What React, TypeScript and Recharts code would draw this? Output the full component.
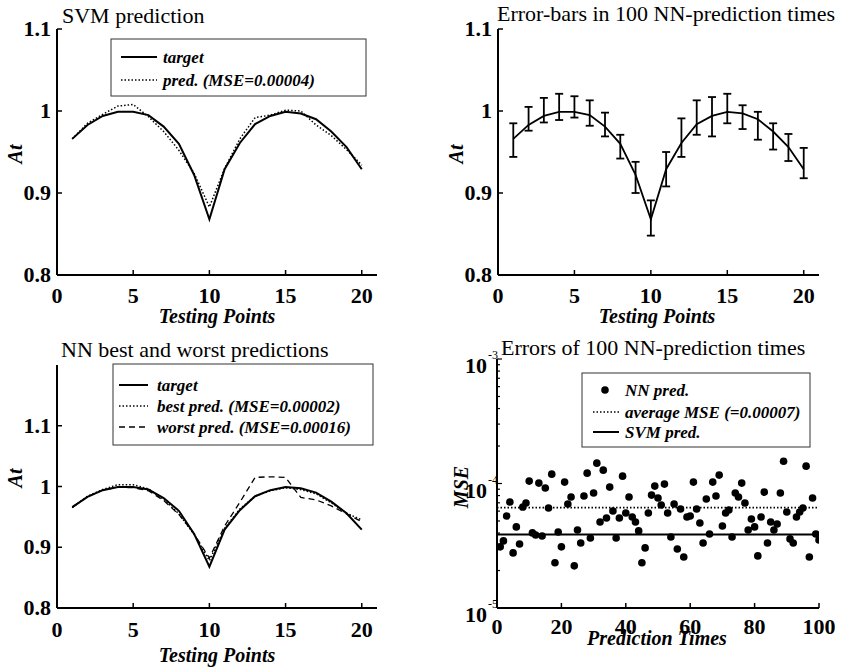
import React from 'react';
import { ComposedChart, Line, XAxis, YAxis, ErrorBar, Scatter, ReferenceLine } from 'recharts';

const FONT = "'Liberation Serif', 'DejaVu Serif', serif";

// ---------- data ----------
const testingPoints = [1, 2, 3, 4, 5, 6, 7, 8, 9, 10, 11, 12, 13, 14, 15, 16, 17, 18, 19, 20];
const target = [0.966, 0.983, 0.994, 0.999, 0.999, 0.995, 0.981, 0.960, 0.922, 0.868, 0.929, 0.961, 0.984, 0.994, 0.999, 0.997, 0.990, 0.975, 0.956, 0.929];
const svmPred = [0.966, 0.985, 0.996, 1.006, 1.008, 0.993, 0.975, 0.952, 0.924, 0.883, 0.930, 0.966, 0.992, 0.995, 1.001, 1.000, 0.983, 0.970, 0.953, 0.934];
const nnBest = [0.965, 0.984, 0.995, 1.003, 1.003, 0.996, 0.979, 0.955, 0.921, 0.878, 0.931, 0.963, 0.984, 0.993, 0.998, 0.995, 0.988, 0.973, 0.956, 0.945];
const nnWorst = [0.966, 0.983, 0.994, 0.999, 0.998, 0.993, 0.977, 0.954, 0.922, 0.882, 0.935, 0.974, 1.015, 1.016, 1.015, 0.982, 0.978, 0.968, 0.955, 0.942];
const errLow = [0.944, 0.976, 0.986, 0.989, 0.992, 0.982, 0.969, 0.942, 0.900, 0.848, 0.908, 0.944, 0.971, 0.969, 0.985, 0.978, 0.965, 0.953, 0.939, 0.918];
const errHigh = [0.985, 1.005, 1.016, 1.021, 1.018, 1.013, 0.998, 0.971, 0.938, 0.891, 0.950, 0.991, 1.013, 1.017, 1.021, 1.007, 0.999, 0.985, 0.972, 0.955];

const nnMse = [
  3.10e-5, 3.46e-5, 5.48e-5, 7.10e-5, 2.77e-5, 4.48e-5, 3.27e-5, 6.47e-5, 6.97e-5, 10.45e-5,
  4.01e-5, 3.86e-5, 10.07e-5, 3.79e-5, 9.19e-5, 6.35e-5, 11.89e-5, 2.31e-5, 4.08e-5, 3.10e-5,
  10.26e-5, 6.84e-5, 7.78e-5, 2.18e-5, 4.23e-5, 3.33e-5, 7.93e-5, 12.11e-5, 3.65e-5, 8.38e-5,
  14.57e-5, 4.91e-5, 12.80e-5, 5.28e-5, 9.36e-5, 6.01e-5, 3.65e-5, 5.28e-5, 11.46e-5, 5.79e-5,
  7.78e-5, 5.38e-5, 4.91e-5, 4.16e-5, 2.31e-5, 3.04e-5, 5.79e-5, 8.07e-5, 9.53e-5, 7.64e-5,
  6.72e-5, 9.89e-5, 5.79e-5, 3.72e-5, 6.84e-5, 2.98e-5, 6.24e-5, 2.57e-5, 5.38e-5, 5.48e-5,
  10.26e-5, 6.24e-5, 4.82e-5, 3.33e-5, 7.50e-5, 3.93e-5, 10.26e-5, 7.93e-5, 11.68e-5, 4.56e-5,
  5.79e-5, 6.12e-5, 3.72e-5, 8.38e-5, 7.78e-5, 10.07e-5, 6.97e-5, 4.23e-5, 5.19e-5, 4.48e-5,
  2.62e-5, 5.38e-5, 8.53e-5, 3.33e-5, 4.91e-5, 4.23e-5, 4.73e-5, 8.38e-5, 15.11e-5, 5.90e-5,
  3.59e-5, 3.33e-5, 5.38e-5, 5.90e-5, 6.35e-5, 13.78e-5, 2.57e-5, 7.64e-5, 3.93e-5, 3.52e-5,
];
const avgMse = 6.4e-5;
const svmMse = 3.9e-5;

const xTicksTP = [0, 5, 10, 15, 20];
const yTicksAt = [0.8, 0.9, 1, 1.1];
const xTicksPT = [0, 20, 40, 60, 80, 100];
const yTicksLog = [
  1e-5, 2e-5, 3e-5, 4e-5, 5e-5, 6e-5, 7e-5, 8e-5, 9e-5,
  1e-4, 2e-4, 3e-4, 4e-4, 5e-4, 6e-4, 7e-4, 8e-4, 9e-4, 1e-3,
];

const lineRows = testingPoints.map((x, i) => ({
  x,
  target: target[i],
  svm: svmPred[i],
  best: nnBest[i],
  worst: nnWorst[i],
  err: [target[i] - errLow[i], errHigh[i] - target[i]],
}));
const scatterRows = nnMse.map((v, i) => ({ t: i + 1, mse: v }));

// ---------- text styles ----------
const sReg = { fontFamily: FONT, fill: '#000' } as const;
const sBold = { fontFamily: FONT, fontWeight: 700, fill: '#000' } as const;
const sBI = { fontFamily: FONT, fontWeight: 700, fontStyle: 'italic', fill: '#000' } as const;

// ---------- ticks ----------
const isMajorLog = (v: number) => Math.abs(Math.log10(v) - Math.round(Math.log10(v))) < 1e-6;

const makeBottomTick = (dy: number) => (p: any) => (
  <g>
    <line x1={p.x} y1={p.y} x2={p.x} y2={p.y - 5} stroke="#000" strokeWidth={1.5} />
    <text x={p.x} y={p.y + dy} textAnchor="middle" fontSize={22} style={sBold}>
      {String(p.payload.value)}
    </text>
  </g>
);
const TopTick = (p: any) => (
  <line x1={p.x} y1={p.y} x2={p.x} y2={p.y + 5} stroke="#000" strokeWidth={1.5} />
);
const LeftTick = (p: any) => (
  <g>
    <line x1={p.x} y1={p.y} x2={p.x + 5} y2={p.y} stroke="#000" strokeWidth={1.5} />
    <text x={p.x - 6} y={p.y + 7} textAnchor="end" fontSize={22} style={sBold}>
      {String(p.payload.value)}
    </text>
  </g>
);
const RightTick = (p: any) => (
  <line x1={p.x} y1={p.y} x2={p.x - 5} y2={p.y} stroke="#000" strokeWidth={1.5} />
);
const LeftLogTick = (p: any) => {
  const v = p.payload.value;
  const major = isMajorLog(v);
  return (
    <g>
      <line x1={p.x} y1={p.y} x2={p.x + (major ? 5 : 3)} y2={p.y} stroke="#000" strokeWidth={1.2} />
      {major && (
        <g>
          <text x={p.x - 10} y={p.y + 14} textAnchor="end" fontSize={22} style={sBold}>10</text>
          <text x={p.x - 9} y={p.y} textAnchor="start" fontSize={12} style={sReg}>
            {String(Math.round(Math.log10(v)))}
          </text>
        </g>
      )}
    </g>
  );
};
const RightLogTick = (p: any) => {
  const major = isMajorLog(p.payload.value);
  return <line x1={p.x} y1={p.y} x2={p.x - (major ? 5 : 3)} y2={p.y} stroke="#000" strokeWidth={1.2} />;
};

const AXIS_LINE = { stroke: '#000', strokeWidth: 2 };

function frameAxes(xKey: string, xDomain: number[], xTicks: number[], yDomain: number[], yTicks: number[], log = false, tickDy = 28) {
  const BT = makeBottomTick(tickDy);
  return [
    <XAxis key="xb" xAxisId="b" dataKey={xKey} type="number" domain={xDomain} ticks={xTicks} interval={0}
      allowDataOverflow height={40} tickSize={0} tickMargin={0} tickLine={false} axisLine={AXIS_LINE} tick={<BT />} />,
    <XAxis key="xt" xAxisId="t" orientation="top" type="number" domain={xDomain} ticks={xTicks} interval={0}
      allowDataOverflow height={0} tickSize={0} tickMargin={0} tickLine={false} axisLine={AXIS_LINE} tick={<TopTick />} />,
    <YAxis key="yl" yAxisId="l" type="number" scale={log ? 'log' : 'auto'} domain={yDomain} ticks={yTicks} interval={0}
      allowDataOverflow width={50} tickSize={0} tickMargin={0} tickLine={false} axisLine={AXIS_LINE}
      tick={log ? <LeftLogTick /> : <LeftTick />} />,
    <YAxis key="yr" yAxisId="r" orientation="right" type="number" scale={log ? 'log' : 'auto'} domain={yDomain} ticks={yTicks} interval={0}
      allowDataOverflow width={0} tickSize={0} tickMargin={0} tickLine={false} axisLine={AXIS_LINE}
      tick={log ? <RightLogTick /> : <RightTick />} />,
  ];
}

function YLabel({ x, y, text }: { x: number; y: number; text: string }) {
  return (
    <text x={x} y={y} transform={`rotate(-90 ${x} ${y})`} textAnchor="middle" dy="0.35em" fontSize={20} style={sBI}>{text}</text>
  );
}

export default function App() {
  return (
    <div style={{ position: 'absolute', left: 0, top: 0, width: 847, height: 667, background: '#fff', overflow: 'hidden', fontFamily: FONT }}>
      {/* Top-left: SVM prediction */}
      <div style={{ position: 'absolute', left: 0, top: 0 }}>
        <ComposedChart width={430} height={330} data={lineRows} margin={{ top: 29, left: 7, right: 53, bottom: 15 }}>
          {frameAxes('x', [0, 21], xTicksTP, [0.8, 1.1], yTicksAt)}
          <Line xAxisId="b" yAxisId="l" dataKey="target" stroke="#000" strokeWidth={2} dot={false} isAnimationActive={false} />
          <Line xAxisId="b" yAxisId="l" dataKey="svm" stroke="#000" strokeWidth={1.5} strokeDasharray="1.5 2" dot={false} isAnimationActive={false} />
        </ComposedChart>
      </div>

      {/* Top-right: error bars */}
      <div style={{ position: 'absolute', left: 430, top: 0 }}>
        <ComposedChart width={417} height={330} data={lineRows} margin={{ top: 29, left: 18, right: 28, bottom: 15 }}>
          {frameAxes('x', [0, 21], xTicksTP, [0.8, 1.1], yTicksAt)}
          <Line xAxisId="b" yAxisId="l" dataKey="target" stroke="#000" strokeWidth={1.8} dot={false} isAnimationActive={false}>
            <ErrorBar dataKey="err" direction="y" width={4} stroke="#000" strokeWidth={1.8} isAnimationActive={false} />
          </Line>
        </ComposedChart>
      </div>

      {/* Bottom-left: NN best and worst */}
      <div style={{ position: 'absolute', left: 0, top: 330 }}>
        <ComposedChart width={430} height={337} data={lineRows} margin={{ top: 35, left: 7, right: 53, bottom: 19 }}>
          {frameAxes('x', [0, 21], xTicksTP, [0.8, 1.2], yTicksAt, false, 29)}
          <Line xAxisId="b" yAxisId="l" dataKey="target" stroke="#000" strokeWidth={2} dot={false} isAnimationActive={false} />
          <Line xAxisId="b" yAxisId="l" dataKey="best" stroke="#000" strokeWidth={1.5} strokeDasharray="1.5 2" dot={false} isAnimationActive={false} />
          <Line xAxisId="b" yAxisId="l" dataKey="worst" stroke="#000" strokeWidth={1.3} strokeDasharray="6 4" dot={false} isAnimationActive={false} />
        </ComposedChart>
      </div>

      {/* Bottom-right: errors scatter (log) */}
      <div style={{ position: 'absolute', left: 430, top: 330 }}>
        <ComposedChart width={417} height={337} data={scatterRows} margin={{ top: 29, left: 17, right: 28, bottom: 19 }}>
          {frameAxes('t', [0, 100], xTicksPT, [1e-5, 1e-3], yTicksLog, true, 26)}
          <ReferenceLine xAxisId="b" yAxisId="l" y={avgMse} stroke="#000" strokeWidth={1.8} strokeDasharray="1.5 2" />
          <ReferenceLine xAxisId="b" yAxisId="l" y={svmMse} stroke="#000" strokeWidth={2} />
          <Scatter xAxisId="b" yAxisId="l" dataKey="mse" isAnimationActive={false}
            shape={(p: any) => <circle cx={p.cx} cy={p.cy} r={3.8} fill="#000" />} />
        </ComposedChart>
      </div>

      {/* Overlay: titles, axis labels, legends */}
      <svg width={847} height={667} style={{ position: 'absolute', left: 0, top: 0, pointerEvents: 'none' }}>
        <text x={62} y={23} fontSize={22} style={sReg}>SVM prediction</text>
        <text x={497} y={21} fontSize={22} style={sReg}>Error-bars in 100 NN-prediction times</text>
        <text x={61} y={357} fontSize={22} style={sReg}>NN best and worst predictions</text>
        <text x={501} y={355} fontSize={22} style={sReg}>Errors of 100 NN-prediction times</text>

        <YLabel x={15} y={154} text="At" />
        <YLabel x={456} y={154} text="At" />
        <YLabel x={15} y={478} text="At" />
        <YLabel x={461} y={487} text="MSE" />

        <text x={217} y={323} textAnchor="middle" fontSize={20} style={sBI}>Testing Points</text>
        <text x={657} y={323} textAnchor="middle" fontSize={20} style={sBI}>Testing Points</text>
        <text x={217} y={662} textAnchor="middle" fontSize={20} style={sBI}>Testing Points</text>
        <text x={657} y={645} textAnchor="middle" fontSize={20} style={sBI}>Prediction Times</text>

        {/* TL legend */}
        <rect x={111} y={39} width={255} height={57} fill="#fff" stroke="#333" strokeWidth={1} />
        <line x1={121} y1={57} x2={157} y2={57} stroke="#000" strokeWidth={2} />
        <text x={163} y={63} fontSize={17} style={sBI}>target</text>
        <line x1={121} y1={80} x2={157} y2={80} stroke="#000" strokeWidth={1.5} strokeDasharray="1.5 2" />
        <text x={163} y={86} fontSize={17} style={sBI}>pred. (MSE=0.00004)</text>

        {/* BL legend */}
        <rect x={113} y={364} width={260} height={81} fill="#fff" stroke="#333" strokeWidth={1} />
        <line x1={119} y1={385} x2={148} y2={385} stroke="#000" strokeWidth={2} />
        <text x={157} y={391} fontSize={17} style={sBI}>target</text>
        <line x1={119} y1={406} x2={148} y2={406} stroke="#000" strokeWidth={1.5} strokeDasharray="1.5 2" />
        <text x={157} y={412} fontSize={17} style={sBI}>best pred. (MSE=0.00002)</text>
        <line x1={119} y1={427} x2={148} y2={427} stroke="#000" strokeWidth={1.3} strokeDasharray="6 4" />
        <text x={157} y={433} fontSize={17} style={sBI}>worst pred. (MSE=0.00016)</text>

        {/* BR legend */}
        <rect x={582} y={373} width={228} height={74} fill="#fff" stroke="#333" strokeWidth={1} />
        <circle cx={605} cy={390} r={3.8} fill="#000" />
        <text x={625} y={396} fontSize={17} style={sBI}>NN pred.</text>
        <line x1={593} y1={412} x2={619} y2={412} stroke="#000" strokeWidth={1.5} strokeDasharray="1.5 2" />
        <text x={625} y={418} fontSize={17} style={sBI}>average MSE (=0.00007)</text>
        <line x1={593} y1={432} x2={619} y2={432} stroke="#000" strokeWidth={2} />
        <text x={625} y={438} fontSize={17} style={sBI}>SVM pred.</text>
      </svg>
    </div>
  );
}
